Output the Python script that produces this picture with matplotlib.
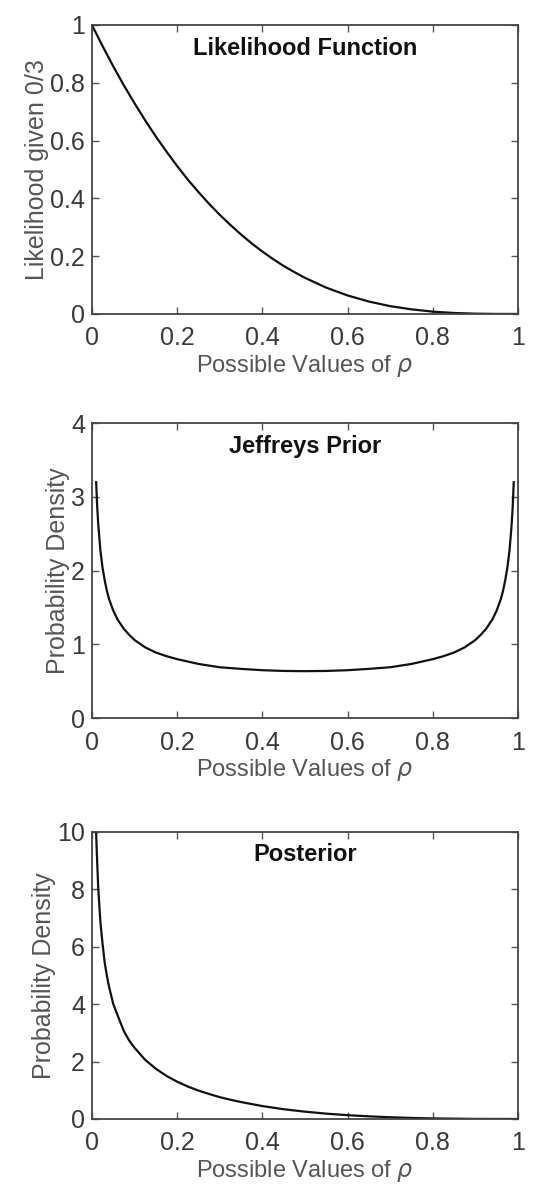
import matplotlib.pyplot as plt

plt.rcParams['font.family'] = ['Liberation Sans', 'DejaVu Sans']

# values
p_like = [0, 0.025, 0.05, 0.075, 0.1, 0.125, 0.15, 0.175, 0.2, 0.225, 0.25, 0.275, 0.3,
          0.325, 0.35, 0.375, 0.4, 0.425, 0.45, 0.475, 0.5, 0.55, 0.6, 0.65, 0.7, 0.75,
          0.8, 0.85, 0.9, 0.95, 1.0]
likelihood = [1.0, 0.927, 0.857, 0.791, 0.729, 0.670, 0.614, 0.562, 0.512, 0.465, 0.422,
              0.381, 0.343, 0.308, 0.275, 0.244, 0.216, 0.190, 0.166, 0.145, 0.125, 0.091,
              0.064, 0.043, 0.027, 0.016, 0.008, 0.0034, 0.001, 0.0001, 0.0]

p_prior = [0.01, 0.0125, 0.015, 0.02, 0.025, 0.03, 0.035, 0.04, 0.05, 0.06, 0.075, 0.0875,
           0.1, 0.125, 0.15, 0.175, 0.2, 0.25, 0.3, 0.35, 0.4, 0.45, 0.5,
           0.55, 0.6, 0.65, 0.7, 0.75, 0.8, 0.825, 0.85, 0.875, 0.9, 0.9125, 0.925, 0.94,
           0.95, 0.96, 0.965, 0.97, 0.975, 0.98, 0.985, 0.9875, 0.99]
prior = [3.20, 2.86, 2.62, 2.27, 2.04, 1.87, 1.73, 1.62, 1.46, 1.34, 1.21, 1.13,
         1.06, 0.96, 0.89, 0.84, 0.80, 0.735, 0.69, 0.668, 0.65, 0.640, 0.637,
         0.640, 0.65, 0.668, 0.69, 0.735, 0.80, 0.84, 0.89, 0.96, 1.06, 1.13, 1.21, 1.34,
         1.46, 1.62, 1.73, 1.87, 2.04, 2.27, 2.62, 2.86, 3.20]

p_post = [0.01, 0.0125, 0.015, 0.02, 0.025, 0.03, 0.035, 0.04, 0.05, 0.06, 0.075, 0.0875,
          0.1, 0.125, 0.15, 0.175, 0.2, 0.225, 0.25, 0.275, 0.3, 0.325, 0.35, 0.375, 0.4,
          0.45, 0.5, 0.55, 0.6, 0.65, 0.7, 0.75, 0.8, 0.9, 1.0]
posterior = [9.93, 8.9, 8.0, 6.85, 6.1, 5.45, 5.0, 4.62, 4.01, 3.62, 3.06, 2.73,
             2.48, 2.06, 1.75, 1.50, 1.30, 1.13, 0.99, 0.87, 0.76, 0.67, 0.59, 0.52, 0.45,
             0.34, 0.255, 0.186, 0.133, 0.092, 0.06, 0.037, 0.02, 0.003, 0.0]

panels = [
    (p_like, likelihood, "Likelihood Function", "Likelihood given 0/3", 1, [0, 0.2, 0.4, 0.6, 0.8, 1], ["0", "0.2", "0.4", "0.6", "0.8", "1"]),
    (p_prior, prior, "Jeffreys Prior", "Probability Density", 4, [0, 1, 2, 3, 4], ["0", "1", "2", "3", "4"]),
    (p_post, posterior, "Posterior", "Probability Density", 10, [0, 2, 4, 6, 8, 10], ["0", "2", "4", "6", "8", "10"]),
]
boxes = [[0.168, 0.7355, 0.779, 0.2435],
         [0.168, 0.395, 0.779, 0.2485],
         [0.168, 0.0573, 0.779, 0.242]]

fig = plt.figure(figsize=(5.47, 11.87), dpi=100)
txt = "#3a3a3a"

for box, (x, y, title, ylab, ymax, yt, ytl) in zip(boxes, panels):
    ax = fig.add_axes(box)
    ax.plot(x, y, color="#111111", lw=1.6)
    ax.set_xlim(0, 1)
    ax.set_ylim(0, ymax)
    ax.set_xticks([0, 0.2, 0.4, 0.6, 0.8, 1])
    ax.set_xticklabels(["0", "0.2", "0.4", "0.6", "0.8", "1"])
    ax.set_yticks(yt)
    ax.set_yticklabels(ytl)
    ax.tick_params(direction="in", top=True, right=True, length=5, width=1,
                   labelsize=18, colors="#555555", labelcolor=txt)
    ax.tick_params(axis="x", pad=9)
    ax.tick_params(axis="y", pad=5)
    for s in ax.spines.values():
        s.set_linewidth(1.3)
        s.set_color("#444444")
    ax.set_xlabel(r"Possible Values of $\rho$", fontsize=17, color="#555555", labelpad=2)
    ax.set_ylabel(ylab, fontsize=18, color="#555555", labelpad=1)
    ax.text(0.5, 0.92, title, transform=ax.transAxes, ha="center", va="center",
            fontsize=17, fontweight="bold", color="#111111")

fig.savefig("out.png", dpi=100)
